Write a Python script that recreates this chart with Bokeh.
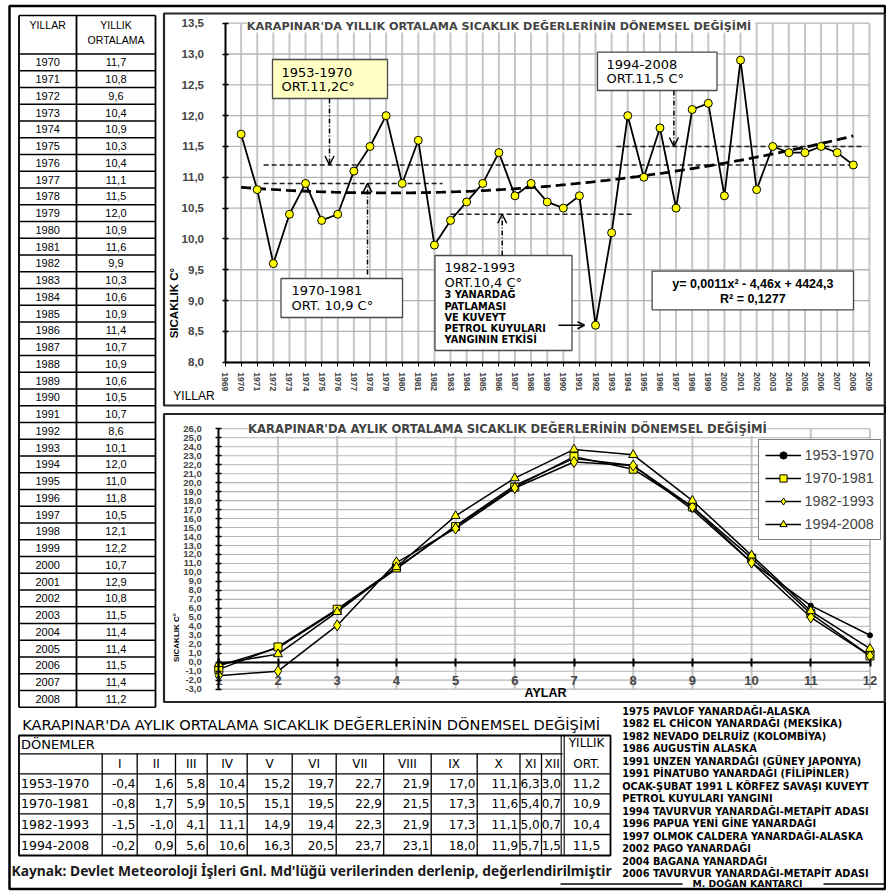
import numpy as np
from bokeh.plotting import figure
from bokeh.models import (Range1d, LinearAxis, SingleIntervalTicker, CustomJSTickFormatter,
                          Label, Arrow, OpenHead, Legend, LegendItem)
from bokeh.core.properties import value
from bokeh.embed import file_html
from bokeh.resources import INLINE

# ---------------------------------------------------------------- data
years = [1970, 1971, 1972, 1973, 1974, 1975, 1976, 1977, 1978, 1979,
         1980, 1981, 1982, 1983, 1984, 1985, 1986, 1987, 1988, 1989,
         1990, 1991, 1992, 1993, 1994, 1995, 1996, 1997, 1998, 1999,
         2000, 2001, 2002, 2003, 2004, 2005, 2006, 2007, 2008]
annual_mean = [11.7, 10.8, 9.6, 10.4, 10.9, 10.3, 10.4, 11.1, 11.5, 12.0,
               10.9, 11.6, 9.9, 10.3, 10.6, 10.9, 11.4, 10.7, 10.9, 10.6,
               10.5, 10.7, 8.6, 10.1, 12.0, 11.0, 11.8, 10.5, 12.1, 12.2,
               10.7, 12.9, 10.8, 11.5, 11.4, 11.4, 11.5, 11.4, 11.2]

periods = ["1953-1970", "1970-1981", "1982-1993", "1994-2008"]
period_mean = [11.2, 10.9, 10.4, 11.5]
# years over which each period mean is drawn as a dashed reference line
period_line_from = [1971.4, 1971.4, 1983.0, 1993.3]
period_line_to = [2008.0, 1982.5, 1994.4, 2008.6]

months = [1, 2, 3, 4, 5, 6, 7, 8, 9, 10, 11, 12]
month_roman = ["I", "II", "III", "IV", "V", "VI", "VII", "VIII", "IX", "X", "XI", "XII"]
monthly_1953_1970 = [-0.4, 1.6, 5.8, 10.4, 15.2, 19.7, 22.7, 21.9, 17.0, 11.1, 6.3, 3.0]
monthly_1970_1981 = [-0.8, 1.7, 5.9, 10.5, 15.1, 19.5, 22.9, 21.5, 17.3, 11.6, 5.4, 0.7]
monthly_1982_1993 = [-1.5, -1.0, 4.1, 11.1, 14.9, 19.4, 22.3, 21.9, 17.3, 11.1, 5.0, 0.7]
monthly_1994_2008 = [-0.2, 0.9, 5.6, 10.6, 16.3, 20.5, 23.7, 23.1, 18.0, 11.9, 5.7, 1.5]

trend_equation = "y= 0,0011x² - 4,46x + 4424,3"
trend_r2 = "R² = 0,1277"

events = ["1975 PAVLOF YANARDAĞI-ALASKA",
          "1982 EL CHİCON YANARDAĞI (MEKSİKA)",
          "1982 NEVADO DELRUİZ (KOLOMBİYA)",
          "1986 AUGUSTİN ALASKA",
          "1991 UNZEN YANARDAĞI (GÜNEY JAPONYA)",
          "1991 PİNATUBO YANARDAĞI (FİLİPİNLER)",
          "OCAK-ŞUBAT 1991 L KÖRFEZ SAVAŞI KUVEYT",
          "PETROL KUYULARI YANGINI",
          "1994 TAVURVUR YANARDAĞI-METAPİT ADASI",
          "1996 PAPUA YENİ GİNE YANARDAĞI",
          "1997 OLMOK CALDERA YANARDAĞI-ALASKA",
          "2002 PAGO YANARDAĞI",
          "2004 BAGANA YANARDAĞI",
          "2006 TAVURVUR YANARDAĞI-METAPİT ADASI"]
effect_note = ["3 YANARDAĞ", "PATLAMASI", "VE KUVEYT", "PETROL KUYULARI", "YANGININ ETKİSİ"]
source_text = "Kaynak: Devlet Meteoroloji İşleri Gnl. Md'lüğü verilerinden derlenip, değerlendirilmiştir"
author = "M. DOĞAN KANTARCI"

top_title = "KARAPINAR'DA YILLIK  ORTALAMA SICAKLIK DEĞERLERİNİN DÖNEMSEL DEĞİŞİMİ"
monthly_title = "KARAPINAR'DA AYLIK ORTALAMA SICAKLIK DEĞERLERİNİN DÖNEMSEL DEĞİŞİMİ"

# ---------------------------------------------------------------- page geometry
W, H = 886, 891

# (value, page px, value, page px) anchors of the chart grids
YEAR_PX = (1969, 224.5, 2009, 868.9)
TEMP_PX = (13.5, 22.7, 8.0, 361.7)
MONTH_PX = (1, 218.3, 12, 869.5)
MTEMP_PX = (26.0, 428.3, 0.0, 661.7)


def extent(v0, p0, v1, p1, a, b):
    k = (v1 - v0) / (p1 - p0)
    return v0 + (a - p0) * k, v0 + (b - p0) * k


def px_to(anchor, px):
    v0, p0, v1, p1 = anchor
    return v0 + (px - p0) * (v1 - v0) / (p1 - p0)


def comma(v):
    return f"{v:.1f}".replace(".", ",")


p = figure(width=W, height=H, x_range=Range1d(0, W), y_range=Range1d(H, 0),
           x_axis_type=None, y_axis_type=None, output_backend="svg",
           toolbar_location=None, min_border=0, outline_line_color=None,
           background_fill_color="white", border_fill_color="white")
p.extra_x_ranges = {"yr": Range1d(*extent(*YEAR_PX, 0, W)),
                    "mo": Range1d(*extent(*MONTH_PX, 0, W))}
p.extra_y_ranges = {"t": Range1d(*extent(*TEMP_PX, H, 0)),
                    "mt": Range1d(*extent(*MTEMP_PX, H, 0))}
TOP = dict(x_range_name="yr", y_range_name="t")
BOT = dict(x_range_name="mo", y_range_name="mt")


def put(xs, ys, texts, size, font="DejaVu Sans", style="normal", align="left",
        baseline="middle", color="black", angle=0.0):
    p.text(x=xs, y=ys, text=texts, text_font=value(font), text_font_style=style,
           text_font_size=f"{size}px", text_align=align, text_baseline=baseline,
           text_color=color, angle=angle)


comma_fmt = CustomJSTickFormatter(code="return tick.toFixed(1).replace('.', ',');")

# ---------------------------------------------------------------- frames
p.quad(left=[9.0], right=[884.5], top=[5.5], bottom=[888.5],
       fill_color=None, line_color="black", line_width=2.5)
p.quad(left=[163.5, 163.5], right=[884.5, 884.5], top=[13.0, 413.5], bottom=[405.0, 701.5],
       fill_color=None, line_color="#262626", line_width=2.2)

# ---------------------------------------------------------------- annual chart
t_ticks = np.arange(8.0, 13.51, 0.5)
grid_years = np.arange(1970, 2010)
p.segment(x0=grid_years, y0=8.0, x1=grid_years, y1=13.5, line_color="#c6c6c6", line_width=2, **TOP)
p.segment(x0=1969, y0=t_ticks, x1=2009, y1=t_ticks, line_color="#b4b4b4", line_width=1.3, **TOP)

p.segment(x0=period_line_from, y0=period_mean, x1=period_line_to, y1=period_mean,
          line_color="#1e1e1e", line_width=1.5, line_dash="5 3", **TOP)

coef = np.polyfit(np.array(years) - 1970, annual_mean, 2)
trend_x = np.linspace(years[0], years[-1], 120)
p.line(trend_x, np.polyval(coef, trend_x - 1970), line_color="black", line_width=2.8,
       line_dash="10 5", **TOP)

p.line(years, annual_mean, line_color="black", line_width=1.8, **TOP)
p.scatter(years, annual_mean, marker="circle", size=8, fill_color="#ffff00",
          line_color="black", line_width=1, **TOP)

t_axis = LinearAxis(x_range_name="yr", y_range_name="t", fixed_location=1969, bounds=(8.0, 13.5),
                    ticker=SingleIntervalTicker(interval=0.5), formatter=comma_fmt,
                    axis_line_width=2, major_tick_in=3, major_tick_out=3, major_tick_line_width=1.5,
                    minor_tick_line_color=None, major_label_standoff=17,
                    major_label_text_font="Liberation Sans", major_label_text_font_style="bold",
                    major_label_text_font_size="11.5px")
p.add_layout(t_axis, "left")

yr_axis = LinearAxis(x_range_name="yr", y_range_name="t", fixed_location=8.0, bounds=(1969, 2009),
                     ticker=SingleIntervalTicker(interval=1),
                     formatter=CustomJSTickFormatter(code="return tick.toFixed(0);"),
                     axis_line_width=2, major_tick_in=0, major_tick_out=4, minor_tick_line_color=None,
                     major_label_orientation="vertical", major_label_standoff=6,
                     major_label_text_font="Liberation Sans", major_label_text_font_style="bold",
                     major_label_text_font_size="8.5px")
p.add_layout(yr_axis, "below")

p.add_layout(Label(x=500.5, y=25.5, text=top_title, text_align="center", text_baseline="middle",
                   text_font="DejaVu Sans", text_font_style="bold", text_font_size="11.2px",
                   background_fill_color="white"))
put([173.0], [301.0], ["SICAKLIK  C°"], 11.5, font="Liberation Sans", style="bold",
    align="center", angle=np.pi / 2)
put([193.5], [395.0], ["YILLAR"], 12, font="Liberation Sans", align="center")

# period boxes
p.quad(left=[272.0, 280.5, 434.5, 597.0, 651.6], right=[387.0, 402.0, 571.5, 716.5, 853.0],
       top=[59.0, 278.0, 255.0, 51.7, 270.7], bottom=[98.0, 317.0, 350.0, 90.0, 309.3],
       fill_color=["#ffffc4", "white", "white", "white", "white"],
       line_color="#4a4a4a", line_width=1.3)
put([281.0, 281.0], [72.0, 86.0], [periods[0], "ORT." + comma(period_mean[0]) + "C°"], 13)
put([291.0, 291.0], [290.0, 305.0], [periods[1], "ORT. " + comma(period_mean[1]) + "  C°"], 13)
put([444.0, 444.0], [267.0, 281.5], [periods[2], "ORT." + comma(period_mean[2]) + "  C°"], 13)
put([444.0] * len(effect_note), [294.3, 305.5, 316.7, 328.0, 339.3], effect_note, 9.8, style="bold")
put([606.0, 606.0], [64.0, 78.0], [periods[3], "ORT." + comma(period_mean[3]) + "  C°"], 13)
put([752.3, 752.3], [283.5, 298.5], [trend_equation, trend_r2], 12.5,
    font="Liberation Sans", style="bold", align="center")

# arrows from the boxes to the period mean lines
arrow_px = [329.0, 367.0, 501.7, 673.4]
arrow_from_py = [98.0, 274.0, 255.0, 90.0]
for xp, yp, m in zip(arrow_px, arrow_from_py, period_mean):
    xv = px_to(YEAR_PX, xp)
    p.add_layout(Arrow(end=OpenHead(size=9, line_width=1.5), x_start=xv, y_start=px_to(TEMP_PX, yp),
                       x_end=xv, y_end=m, line_width=1.5, line_dash="5 2 1 2", **TOP))
y1992 = annual_mean[years.index(1992)]
p.add_layout(Arrow(end=OpenHead(size=7, line_width=1.5), x_start=px_to(YEAR_PX, 558.0),
                   y_start=y1992, x_end=px_to(YEAR_PX, 584.0), y_end=y1992, line_width=1.5, **TOP))

# ---------------------------------------------------------------- monthly chart
mt_ticks = np.arange(-3, 27)
p.segment(x0=months[1:], y0=-3, x1=months[1:], y1=26, line_color="#c6c6c6", line_width=2, **BOT)
p.segment(x0=1, y0=mt_ticks, x1=12, y1=mt_ticks, line_color="#b4b4b4", line_width=1.1, **BOT)

series = [(periods[0], monthly_1953_1970, "circle", 5, "black"),
          (periods[1], monthly_1970_1981, "square", 8, "#ffff00"),
          (periods[2], monthly_1982_1993, "diamond", 11, "#ffff00"),
          (periods[3], monthly_1994_2008, "triangle", 9, "#ffff00")]
items = []
for name, vals, marker, size, fill in series:
    lr = p.line(months, vals, line_color="black", line_width=1.5, **BOT)
    sr = p.scatter(months, vals, marker=marker, size=size, fill_color=fill,
                   line_color="black", line_width=1, **BOT)
    items.append(LegendItem(label=name, renderers=[lr, sr]))

mt_axis = LinearAxis(x_range_name="mo", y_range_name="mt", fixed_location=1, bounds=(-3, 26),
                     ticker=SingleIntervalTicker(interval=1), formatter=comma_fmt,
                     axis_line_width=2, major_tick_in=3, major_tick_out=3, major_tick_line_width=1.5,
                     minor_tick_line_color=None, major_label_standoff=13,
                     major_label_text_font="Liberation Sans", major_label_text_font_style="bold",
                     major_label_text_font_size="9.5px")
p.add_layout(mt_axis, "left")

zero_axis = LinearAxis(x_range_name="mo", y_range_name="mt", fixed_location=0, bounds=(1, 12),
                       ticker=SingleIntervalTicker(interval=1),
                       formatter=CustomJSTickFormatter(code="return '';"),
                       axis_line_width=2.2, major_tick_in=4, major_tick_out=4, major_tick_line_width=2,
                       minor_tick_line_color=None)
p.add_layout(zero_axis, "below")

month_axis = LinearAxis(x_range_name="mo", y_range_name="mt", fixed_location=-0.9, bounds=(1, 12),
                        ticker=SingleIntervalTicker(interval=1),
                        formatter=CustomJSTickFormatter(code="return tick.toFixed(0);"),
                        axis_line_color=None, major_tick_line_color=None, minor_tick_line_color=None,
                        major_label_standoff=0, major_label_text_font="Liberation Sans",
                        major_label_text_font_style="bold", major_label_text_font_size="13px")
p.add_layout(month_axis, "below")

p.add_layout(Label(x=507.0, y=428.5, text=monthly_title, text_align="center", text_baseline="middle",
                   text_font="DejaVu Sans", text_font_style="bold", text_font_size="11.6px",
                   background_fill_color="white"))
put([545.0], [692.5], ["AYLAR"], 12.5, font="Liberation Sans", style="bold", align="center")
put([175.5], [637.0], ["SICAKLIK C°"], 8, font="Liberation Sans", style="bold",
    align="center", angle=np.pi / 2)

legend = Legend(items=items, location=(757.5, H - 540), border_line_color="black",
                border_line_width=1.2, background_fill_color="white", background_fill_alpha=1.0,
                padding=6, spacing=5, margin=0, glyph_width=36, glyph_height=18, label_height=18,
                label_standoff=4, label_text_font="Liberation Sans", label_text_font_size="14.5px")
p.add_layout(legend)

# ---------------------------------------------------------------- annual table (left)
TL, TM, TR = 18.5, 76.0, 155.0
T_TOP, T_HEAD, ROW_H = 15.0, 53.5, 16.75
row_edges = T_HEAD + ROW_H * np.arange(len(years) + 1)
h_lines = np.r_[T_TOP, row_edges]
p.segment(x0=TL, y0=h_lines, x1=TR, y1=h_lines, line_color="black", line_width=1.3)
p.segment(x0=[TL, TM, TR], y0=T_TOP, x1=[TL, TM, TR], y1=row_edges[-1],
          line_color="black", line_width=1.8)
row_mid = row_edges[:-1] + ROW_H / 2
put([47.2] * len(years), row_mid, [str(y) for y in years], 11, font="Liberation Sans", align="center")
put([115.5] * len(years), row_mid, [comma(v) for v in annual_mean], 11,
    font="Liberation Sans", align="center")
put([47.2, 115.5, 115.5], [24.0, 24.0, 39.0], ["YILLAR", "YILLIK", "ORTALAMA"], 10.5,
    font="Liberation Sans", align="center")

# ---------------------------------------------------------------- monthly table (bottom)
BX = [18.5, 101.7, 136.7, 175.0, 206.7, 246.7, 291.7, 335.7, 383.2, 430.7, 476.7,
      519.5, 541.0, 562.2, 610.0]
BY = [735.0, 753.3, 773.3, 793.3, 813.3, 834.0, 855.0]
p.quad(left=[BX[0]], right=[BX[-1]], top=[BY[0]], bottom=[BY[-1]], fill_color=None,
       line_color="black", line_width=1.8)
p.segment(x0=BX[0], y0=BY[1], x1=BX[13], y1=BY[1], line_color="black", line_width=1.3)
p.segment(x0=BX[0], y0=BY[2:6], x1=BX[-1], y1=BY[2:6], line_color="black", line_width=1.3)
p.segment(x0=BX[1:13], y0=BY[1], x1=BX[1:13], y1=BY[-1], line_color="black", line_width=1.3)
p.segment(x0=[BX[13] - 1.5, BX[13] + 1.5], y0=BY[0], x1=[BX[13] - 1.5, BX[13] + 1.5], y1=BY[-1],
          line_color="black", line_width=1.1)

put([21.7], [724.0], [monthly_title], 14.6)
put([20.5], [744.2], ["DÖNEMLER"], 13)
col_mid = [(a + b) / 2 for a, b in zip(BX[1:13], BX[2:14])]
put(col_mid, [763.3] * 12, month_roman, 12, align="center")
put([586.1, 586.1], [742.5, 763.3], ["YILLIK", "ORT."], 12, align="center")
row_y = [(a + b) / 2 for a, b in zip(BY[2:6], BY[3:7])]
put([20.5] * 4, row_y, periods, 12.5)
for ry, (_, vals, _, _, _), m in zip(row_y, series, period_mean):
    put([x - 1.8 for x in BX[2:14]], [ry] * 12, [comma(v) for v in vals], 12, align="right")
    put([586.1], [ry], [comma(m)], 12.5, align="center")

put([11.0], [870.0], [source_text], 13.8, font="Noto Sans", style="bold", color="#1a1a1a")

# ---------------------------------------------------------------- event list
ev_y = 710.5 + 12.5 * np.arange(len(events))
put([621.7] * len(events), ev_y, events, 9.8, style="bold")
put([747.0], [883.0], [author], 9.3, style="bold", align="center")
p.segment(x0=[560.0, 823.0], y0=883.5, x1=[682.0, 884.5], y1=883.5, line_color="black", line_width=1.3)

open("out.html", "w").write(file_html(p, INLINE))
